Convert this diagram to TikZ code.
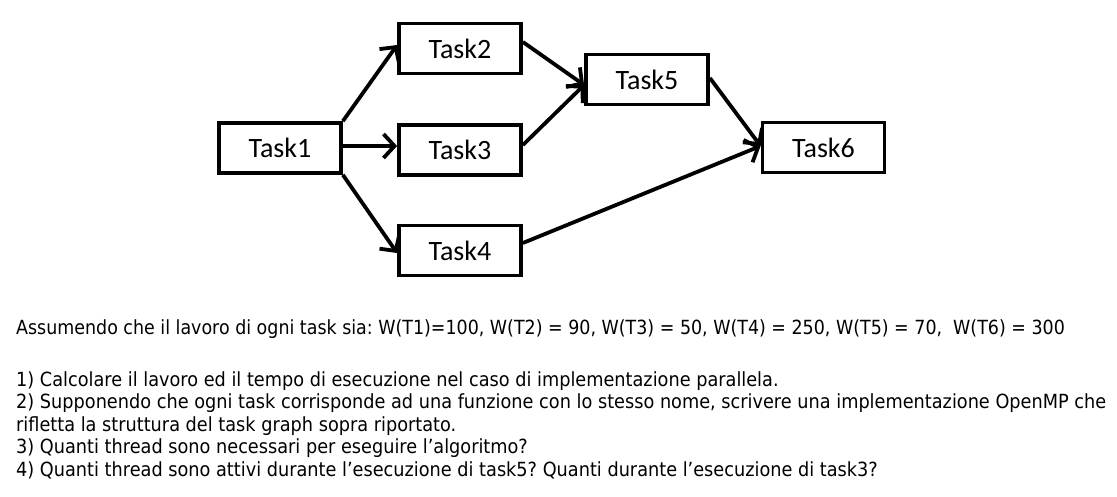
\documentclass[tikz,border=0pt]{standalone}
\usepackage{fontspec}
\usetikzlibrary{arrows.meta}
\newfontfamily\taskfont{Carlito}
\newfontfamily\txtfont[FakeStretch=0.908]{DejaVu Sans}
\newfontfamily\txtfontb[FakeStretch=0.895]{DejaVu Sans}
\frenchspacing
\begin{document}
\begin{tikzpicture}[x=1pt,y=-1pt,
  taskbox/.style={draw=black,line width=3.8pt,minimum width=122pt,minimum height=50pt,inner sep=0pt,font=\taskfont\fontsize{28}{32}\selectfont},
  conn/.style={line width=3.8pt,-{Straight Barb[length=11pt,width=24pt,line width=3.8pt]}},
  txt/.style={anchor=base west,inner sep=0pt,font=\frenchspacing\txtfont\fontsize{19.5}{22}\selectfont}]
\useasboundingbox (0,0) rectangle (1117,496);
\node[taskbox] (t1) at (280,148) {Task1};
\node[taskbox] (t2) at (460,48.5) {Task2};
\node[taskbox] (t3) at (460,150) {Task3};
\node[taskbox] (t4) at (460,250.5) {Task4};
\node[taskbox] (t5) at (647,79.5) {Task5};
\node[taskbox] (t6) at (823.5,147.5) {Task6};
\draw[conn] (t1.north east) -- ([yshift=3.5pt]t2.west);
\draw[conn] ([yshift=2pt]t1.east) -- ([yshift=4pt]t3.west);
\draw[conn] (t1.south east) -- ([yshift=-2.5pt]t4.west);
\draw[conn] ([yshift=6.5pt]t2.east) -- ([yshift=-5.5pt]t5.west);
\draw[conn] ([yshift=5pt]t3.east) -- ([yshift=-5.5pt]t5.west);
\draw[conn] ([yshift=1.5pt]t5.east) -- ([yshift=1.5pt]t6.west);
\draw[conn] ([yshift=7.5pt]t4.east) -- ([yshift=1.5pt]t6.west);
\node[txt,font=\frenchspacing\txtfontb\fontsize{19.5}{22}\selectfont] (l1) at (16,334) {Assumendo che il lavoro di ogni task sia: W(T1)=100, W(T2) = 90, W(T3) = 50, W(T4) = 250, W(T5) = 70,\ \ W(T6) = 300};
\node[txt] (l2) at (16,386) {1) Calcolare il lavoro ed il tempo di esecuzione nel caso di implementazione parallela.};
\node[txt] (l3) at (16,408.5) {2) Supponendo che ogni task corrisponde ad una funzione con lo stesso nome, scrivere una implementazione OpenMP che};
\node[txt] (l4) at (16,431) {rifletta la struttura del task graph sopra riportato.};
\node[txt] (l5) at (16,453.5) {3) Quanti thread sono necessari per eseguire l’algoritmo?};
\node[txt] (l6) at (16,476) {4) Quanti thread sono attivi durante l’esecuzione di task5? Quanti durante l’esecuzione di task3?};
\end{tikzpicture}
\end{document}
